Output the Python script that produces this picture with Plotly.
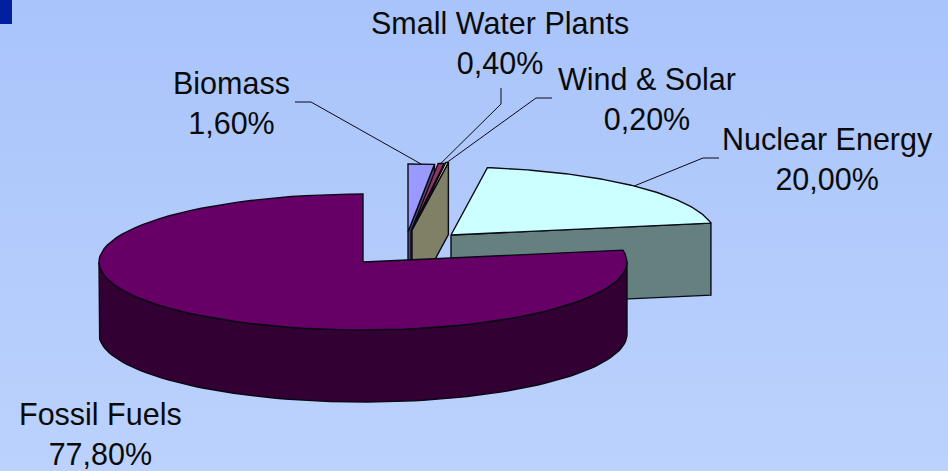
import numpy as np
import plotly.graph_objects as go

W, H = 948, 471

# ---- Data (clockwise from 12 o'clock) ----
categories = ["Biomass", "Small Water Plants", "Wind & Solar", "Nuclear Energy", "Fossil Fuels"]
shares = [1.60, 0.40, 0.20, 20.00, 77.80]

# ---- Styles ----
top_colors = ["#9999FF", "#993366", "#FFFFCC", "#CCFFFF", "#660066"]
side_colors = ["#4C4C80", "#4C1A33", "#808066", "#668080", "#330033"]
OUTLINE = "#0A0A14"
TEXT_FONT = dict(family="Liberation Sans, Arial, sans-serif", size=30.5, color="#0A0A0A")

# ---- Pie projection, in pixels ----
CX, CY = 363, 262
RX, RY = 264, 68
DEPTH = 72
explode_dx = [45, 48, 49, 88, 0]
explode_dy = [-30, -31, -32, -27, 0]

# ---- Label anchors and leader starts ----
label_x = [231, 500, 647, 827, 100]
label_y = [103, 43, 99, 159, 434]
leader_start = [
    [(295, 102), (311, 102)],
    [(501, 88), (501, 104)],
    [(552, 98), (536, 98)],
    [(719, 158), (703, 158)],
    None,
]


def arc(theta1, theta2, dx, dy, n=90):
    t = np.radians(np.linspace(theta1, theta2, n))
    return CX + dx + RX * np.sin(t), CY + dy - RY * np.cos(t)


def add_poly(fig, xs, ys, fill):
    fig.add_trace(
        go.Scatter(
            x=xs,
            y=ys,
            mode="lines",
            fill="toself",
            fillcolor=fill,
            line=dict(color=OUTLINE, width=1.4),
            hoverinfo="skip",
            showlegend=False,
        )
    )


fig = go.Figure()

# ---- Background gradient ----
fig.add_trace(
    go.Scatter(
        x=[0, W, W, 0, 0],
        y=[0, 0, H, H, 0],
        mode="lines",
        fill="toself",
        fillgradient=dict(
            type="vertical",
            colorscale=[[0, "#BCD2FD"], [1, "#A9C4FB"]],
        ),
        line=dict(width=0),
        hoverinfo="skip",
        showlegend=False,
    )
)

angles = np.cumsum([0] + shares) * 3.6

for i, name in enumerate(categories):
    t1, t2 = angles[i], angles[i + 1]
    dx, dy = explode_dx[i], explode_dy[i]
    apex_x, apex_y = CX + dx, CY + dy

    # cut face at the clockwise end of the slice, visible on the right half
    if t2 < 90:
        ex, ey = arc(t2, t2, dx, dy, 2)
        add_poly(
            fig,
            [apex_x, ex[0], ex[0], apex_x, apex_x],
            [apex_y, ey[0], ey[0] + DEPTH, apex_y + DEPTH, apex_y],
            side_colors[i],
        )

    # outer rim, front half only
    lo, hi = max(t1, 90), min(t2, 270)
    if hi > lo:
        rx, ry = arc(lo, hi, dx, dy)
        add_poly(
            fig,
            list(rx) + list(rx[::-1]) + [rx[0]],
            list(ry) + list(ry[::-1] + DEPTH) + [ry[0]],
            side_colors[i],
        )

    # top face
    ax, ay = arc(t1, t2, dx, dy)
    add_poly(
        fig,
        [apex_x] + list(ax) + [apex_x],
        [apex_y] + list(ay) + [apex_y],
        top_colors[i],
    )

# ---- Leader lines ----
for i, start in enumerate(leader_start):
    if start is None:
        continue
    mid = (angles[i] + angles[i + 1]) / 2
    mx, my = arc(mid, mid, explode_dx[i], explode_dy[i], 2)
    fig.add_trace(
        go.Scatter(
            x=[p[0] for p in start] + [mx[0]],
            y=[p[1] for p in start] + [my[0]],
            mode="lines",
            line=dict(color=OUTLINE, width=1),
            hoverinfo="skip",
            showlegend=False,
        )
    )

# ---- Labels ----
for i, name in enumerate(categories):
    pct = f"{shares[i]:.2f}%".replace(".", ",")
    fig.add_annotation(
        x=label_x[i],
        y=label_y[i],
        text=f"{name}<br>{pct}",
        showarrow=False,
        font=TEXT_FONT,
        xanchor="center",
        yanchor="middle",
        align="center",
    )

fig.add_shape(
    type="rect",
    xref="paper",
    yref="paper",
    x0=0,
    x1=12 / W,
    y0=1,
    y1=1 - 24 / H,
    fillcolor="#00209F",
    line_width=0,
)

fig.update_layout(
    width=W,
    height=H,
    margin=dict(l=0, r=0, t=0, b=0),
    paper_bgcolor="#B2CBFC",
    plot_bgcolor="#B2CBFC",
    xaxis=dict(range=[0, W], visible=False, fixedrange=True),
    yaxis=dict(range=[H, 0], visible=False, fixedrange=True),
)

fig.write_html(
    "out.html",
    config={"displayModeBar": False},
    post_script="document.body.style.margin='0';document.documentElement.style.overflow='hidden';",
)
